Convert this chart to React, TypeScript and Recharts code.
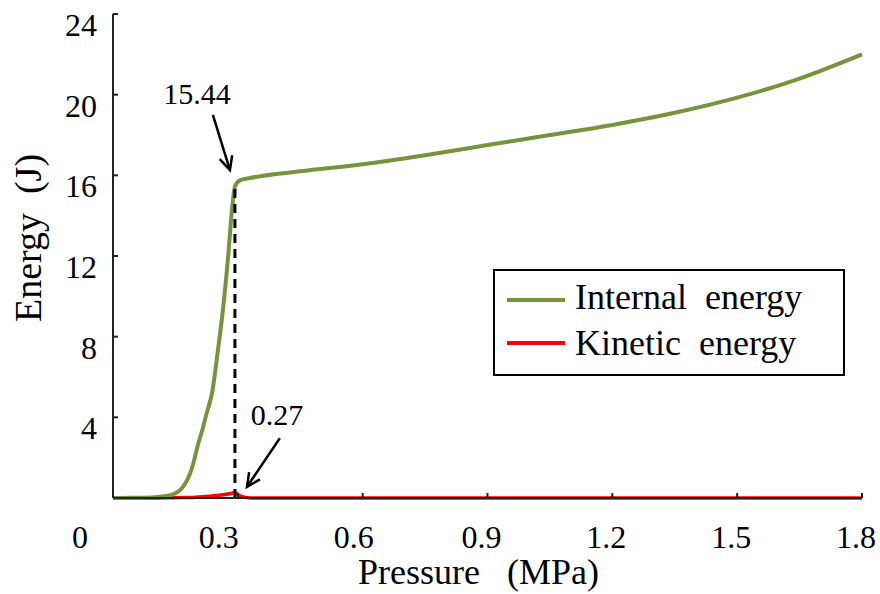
import React from "react";
import { LineChart, Line, XAxis, YAxis, ReferenceLine, ReferenceDot } from "recharts";

// pressure (MPa) sample points
const pressure = [
  0, 0.05, 0.1, 0.14, 0.17, 0.19, 0.205, 0.215, 0.225, 0.238, 0.252, 0.264, 0.276, 0.286, 0.293,
  0.305, 0.33, 0.45, 0.6, 0.75, 0.9, 1.05, 1.2, 1.35, 1.5, 1.65, 1.8,
];
// internal energy (J)
const internalEnergy = [
  0, 0.01, 0.04, 0.15, 0.6, 1.5, 2.7, 3.4, 4.2, 5.2, 7.3, 9.3, 11.8, 14.3, 15.44,
  15.75, 15.87, 16.2, 16.55, 17.0, 17.5, 18.0, 18.5, 19.1, 19.85, 20.8, 22.0,
];
// kinetic energy (J)
const kineticEnergy = [
  0, 0, 0, 0.01, 0.02, 0.03, 0.05, 0.06, 0.08, 0.1, 0.13, 0.16, 0.2, 0.24, 0.27,
  0.1, 0, 0, 0, 0, 0, 0, 0, 0, 0, 0, 0,
];

const xTicks = [0, 0.3, 0.6, 0.9, 1.2, 1.5, 1.8];
const yTicks = [4, 8, 12, 16, 20, 24];

const peakPressure = 0.293;
const peakInternal = 15.44;
const peakKinetic = 0.27;

const data = pressure.map((p, i) => ({
  p,
  internal: internalEnergy[i],
  kinetic: kineticEnergy[i],
}));

const FONT = "'Liberation Serif', 'Times New Roman', serif";
const GREEN = "#77933C";
const RED = "#FF0000";
const AXIS = "#222";

const series = [
  { key: "internal", name: "Internal energy", color: GREEN },
  { key: "kinetic", name: "Kinetic energy", color: RED },
];

const xLabelShift: Record<string, number> = { "0": -33, "0.3": -19, "0.6": -9 };

function XTick({ x, y, payload }: any) {
  const v = String(payload.value);
  const dx = xLabelShift[v] ?? -6;
  return (
    <g>
      <line x1={x} x2={x} y1={y} y2={y - 5} stroke={AXIS} strokeWidth={2} />
      <text x={x + dx} y={y + 50} textAnchor="middle" fontSize={32} style={{ fontFamily: FONT }} fill="#000">
        {v}
      </text>
    </g>
  );
}

function YTick({ x, y, payload }: any) {
  return (
    <g>
      <line x1={x} x2={x + 5} y1={y} y2={y} stroke={AXIS} strokeWidth={2} />
      <text x={x - 16} y={y + 22} textAnchor="end" fontSize={32} style={{ fontFamily: FONT }} fill="#000">
        {payload.value}
      </text>
    </g>
  );
}

function XTitle({ viewBox }: any) {
  return (
    <text
      x={viewBox.x + viewBox.width / 2 - 9}
      y={viewBox.y + 86}
      textAnchor="middle"
      fontSize={36}
      fill="#000"
      style={{ whiteSpace: "pre", fontFamily: FONT }}
    >
      {"Pressure   (MPa)"}
    </text>
  );
}

function YTitle({ viewBox }: any) {
  const cx = viewBox.x + 28;
  const cy = viewBox.y + viewBox.height / 2 - 18;
  return (
    <text
      x={cx}
      y={cy}
      transform={`rotate(-90 ${cx} ${cy})`}
      textAnchor="middle"
      dominantBaseline="central"
      fontSize={38}
      fill="#000"
      style={{ whiteSpace: "pre", fontFamily: FONT }}
    >
      {"Energy  (J)"}
    </text>
  );
}

function Arrow({ x1, y1, x2, y2 }: any) {
  const ang = Math.atan2(y2 - y1, x2 - x1);
  const len = 15;
  const spread = 0.45;
  const ax = x2 - len * Math.cos(ang - spread);
  const ay = y2 - len * Math.sin(ang - spread);
  const bx = x2 - len * Math.cos(ang + spread);
  const by = y2 - len * Math.sin(ang + spread);
  return (
    <g>
      <line x1={x1} y1={y1} x2={x2} y2={y2} stroke="#000" strokeWidth={2.5} />
      <polyline
        points={`${ax},${ay} ${x2},${y2} ${bx},${by}`}
        fill="none"
        stroke="#000"
        strokeWidth={2.5}
      />
    </g>
  );
}

const annText = (label: string) => (p: any) => (
  <text
    x={p.cx}
    y={p.cy}
    textAnchor="middle"
    dominantBaseline="central"
    fontSize={30}
    style={{ fontFamily: FONT }}
    fill="#000"
  >
    {label}
  </text>
);

function LegendBox() {
  return (
    <svg
      width={352}
      height={107}
      style={{ position: "absolute", left: 493, top: 269, background: "#fff" }}
    >
      <rect x={1} y={1} width={350} height={105} fill="#fff" stroke="#000" strokeWidth={2} />
      {series.map((s, i) => (
        <g key={s.key}>
          <line x1={14} x2={72} y1={31 + i * 43} y2={31 + i * 43} stroke={s.color} strokeWidth={4} />
          <text
            x={82}
            y={40 + i * 46}
            fontSize={36}
            fill="#000"
            style={{ whiteSpace: "pre", fontFamily: FONT }}
          >
            {s.name.replace(" ", "  ")}
          </text>
        </g>
      ))}
    </svg>
  );
}

export default function App() {
  return (
    <div style={{ position: "absolute", left: 0, top: 0, width: 880, height: 594, background: "#fff", fontFamily: FONT }}>
      <LineChart width={880} height={594} data={data} margin={{ top: 14, right: 18, left: 0, bottom: 0 }}>
        <XAxis
          dataKey="p"
          type="number"
          domain={[0, 1.8]}
          ticks={xTicks}
          height={96}
          tickSize={0}
          tickMargin={0}
          tickLine={false}
          axisLine={{ stroke: AXIS, strokeWidth: 2 }}
          tick={<XTick />}
          label={<XTitle />}
        />
        <YAxis
          type="number"
          domain={[0, 24]}
          ticks={yTicks}
          width={113}
          tickSize={0}
          tickMargin={0}
          tickLine={false}
          axisLine={{ stroke: AXIS, strokeWidth: 2 }}
          tick={<YTick />}
          label={<YTitle />}
        />
        <Line
          type="monotone"
          dataKey="kinetic"
          name="Kinetic energy"
          stroke={RED}
          strokeWidth={3.5}
          dot={false}
          isAnimationActive={false}
        />
        <Line
          type="monotone"
          dataKey="internal"
          name="Internal energy"
          stroke={GREEN}
          strokeWidth={4}
          dot={false}
          isAnimationActive={false}
        />
        <ReferenceLine
          segment={[
            { x: peakPressure, y: 0 },
            { x: peakPressure, y: peakInternal },
          ]}
          stroke="#000"
          strokeWidth={3}
          strokeDasharray="9 6"
        />
        <ReferenceLine
          segment={[
            { x: 0.24, y: 19.0 },
            { x: 0.281, y: 16.26 },
          ]}
          shape={<Arrow />}
        />
        <ReferenceLine
          segment={[
            { x: 0.401, y: 2.97 },
            { x: 0.322, y: 0.55 },
          ]}
          shape={<Arrow />}
        />
        <ReferenceDot x={0.2016} y={20.08} shape={annText(String(peakInternal))} />
        <ReferenceDot x={0.394} y={4.16} shape={annText(String(peakKinetic))} />
      </LineChart>
      <LegendBox />
    </div>
  );
}
